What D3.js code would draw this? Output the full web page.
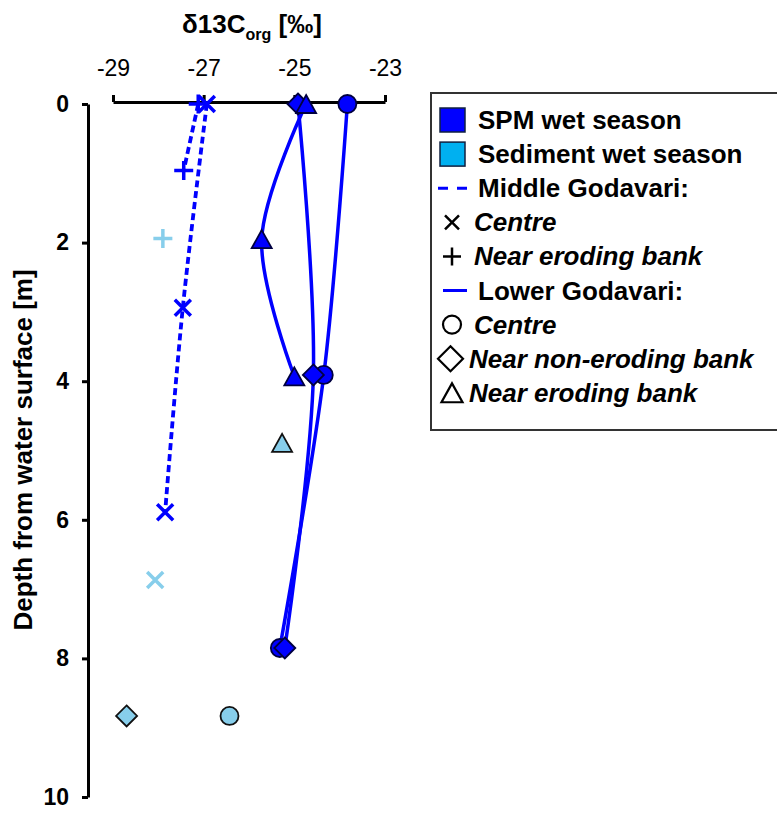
<!DOCTYPE html>
<html>
<head>
<meta charset="utf-8">
<script src="https://cdn.jsdelivr.net/npm/d3@7"></script>
<style>
  body { margin: 0; background: #fff; }
  text { font-family: "Liberation Sans", Arial, sans-serif; }
</style>
</head>
<body>
<div id="chart"></div>
<script>

let width = 777;
let height = 814;

// axis ticks
const xTicks = [-29, -27, -25, -23]
const yTicks = [0, 2, 4, 6, 8, 10]

// Middle Godavari, SPM wet season (dashed lines)
const midCentreDepth = [0, 2.94, 5.89]
const midCentreSpm = [-26.93, -27.46, -27.85]
const midBankDepth = [0, 0.96]
const midBankSpm = [-27.12, -27.44]

// Middle Godavari, sediment wet season
const midCentreSedDepth = [6.87]
const midCentreSed = [-28.07]
const midBankSedDepth = [1.94]
const midBankSed = [-27.90]

// Lower Godavari, SPM wet season (solid lines)
const lowDepth = [0, 3.91, 7.85]
const lowCentreSpm = [-23.83, -24.35, -25.32]
const lowNonErodingSpm = [-24.92, -24.58, -25.21]
const lowErodingDepth = [0, 1.95, 3.93]
const lowErodingSpm = [-24.74, -25.72, -25.00]

// Lower Godavari, sediment wet season
const lowCentreSedDepth = [8.83]
const lowCentreSed = [-26.43]
const lowNonErodingSedDepth = [8.83]
const lowNonErodingSed = [-28.70]
const lowErodingSedDepth = [4.89]
const lowErodingSed = [-25.27]

// legend rows
const legendLabels = ["SPM wet season", "Sediment wet season", "Middle Godavari:", "Centre",
  "Near eroding bank", "Lower Godavari:", "Centre", "Near non-eroding bank", "Near eroding bank"]
const legendKeys = ["spm", "sed", "dash", "times", "plus", "solid", "circle", "diamond", "triangle"]

const blue = "#0000ff"
const sedBlue = "#87ceeb"

function pts(depths, values) {
  return depths.map(function(d, i) { return {d: d, v: values[i]} })
}

// each series: shape, spm or sediment, line style
let series = [
  {shape: "plus", kind: "spm", line: "dash", points: pts(midBankDepth, midBankSpm)},
  {shape: "times", kind: "spm", line: "dash", points: pts(midCentreDepth, midCentreSpm)},
  {shape: "plus", kind: "sed", line: null, points: pts(midBankSedDepth, midBankSed)},
  {shape: "times", kind: "sed", line: null, points: pts(midCentreSedDepth, midCentreSed)},
  {shape: "circle", kind: "spm", line: "solid", points: pts(lowDepth, lowCentreSpm)},
  {shape: "diamond", kind: "spm", line: "solid", points: pts(lowDepth, lowNonErodingSpm)},
  {shape: "triangle", kind: "spm", line: "solid", points: pts(lowErodingDepth, lowErodingSpm)},
  {shape: "circle", kind: "sed", line: null, points: pts(lowCentreSedDepth, lowCentreSed)},
  {shape: "diamond", kind: "sed", line: null, points: pts(lowNonErodingSedDepth, lowNonErodingSed)},
  {shape: "triangle", kind: "sed", line: null, points: pts(lowErodingSedDepth, lowErodingSed)}
]

let x = d3.scaleLinear().domain([-29, -23]).range([113, 385])
let y = d3.scaleLinear().domain([0, 10]).range([104, 797])

let svg = d3.select("#chart").append("svg")
  .attr("width", width)
  .attr("height", height)
  .style("background", "#fff")

// marker outlines
function shapePath(shape, s) {
  if (shape == "diamond") return `M0,${-s}L${s},0L0,${s}L${-s},0Z`
  if (shape == "triangle") return `M0,${-s * 0.9}L${s},${s * 0.9}L${-s},${s * 0.9}Z`
  if (shape == "times") return `M${-s},${-s}L${s},${s}M${-s},${s}L${s},${-s}`
  if (shape == "plus") return `M${-s},0H${s}M0,${-s}V${s}`
  return d3.symbol(d3.symbolCircle, Math.PI * s * s)()
}
let markerSize = {circle: 9, diamond: 10.5, triangle: 10, times: 8, plus: 9.5}

// top axis
let xAxis = svg.append("g")
  .attr("transform", "translate(0,102)")
  .call(d3.axisTop(x).tickValues(xTicks).tickSize(7).tickSizeOuter(0).tickPadding(19).tickFormat(d3.format("d")))
xAxis.select(".domain").attr("stroke-width", 3)
xAxis.selectAll(".tick line").attr("stroke-width", 3)
xAxis.selectAll("text").style("font-size", "23px").attr("fill", "#000")
  .text(function(d) { return "-" + Math.abs(d) })

// left axis
let yAxis = svg.append("g")
  .attr("transform", "translate(88,0)")
  .call(d3.axisLeft(y).tickValues(yTicks).tickSize(6).tickSizeOuter(0).tickPadding(13))
yAxis.select(".domain").attr("stroke-width", 3)
yAxis.selectAll(".tick line").attr("stroke-width", 3)
yAxis.selectAll("text").style("font-size", "23px").style("font-weight", "bold").attr("fill", "#000")

// axis titles
let title = svg.append("text")
  .attr("x", 252).attr("y", 33)
  .attr("text-anchor", "middle")
  .style("font-size", "26px").style("font-weight", "bold")
title.append("tspan").text("δ13C")
title.append("tspan").attr("dy", 7).style("font-size", "16px").text("org")
title.append("tspan").attr("dy", -7).text(" [‰]")

svg.append("text")
  .attr("transform", "translate(32,450) rotate(-90)")
  .attr("text-anchor", "middle")
  .style("font-size", "26px").style("font-weight", "bold")
  .text("Depth from water surface [m]")

// lines
let line = d3.line()
  .x(function(d) { return x(d.v) })
  .y(function(d) { return y(d.d) })
  .curve(d3.curveCatmullRom)

svg.selectAll(".link")
  .data(series.filter(function(s) { return s.line }))
  .join("path")
  .attr("class", "link")
  .attr("d", function(s) { return line(s.points) })
  .attr("fill", "none")
  .attr("stroke", blue)
  .attr("stroke-width", function(s) { return s.line == "dash" ? 3.8 : 3.5 })
  .attr("stroke-dasharray", function(s) { return s.line == "dash" ? "7,4" : null })

// markers
let markers = []
series.forEach(function(s) {
  s.points.forEach(function(p) { markers.push({shape: s.shape, kind: s.kind, d: p.d, v: p.v}) })
})
let order = {times: 0, plus: 1, circle: 2, diamond: 3, triangle: 4}
markers.sort(function(a, b) { return order[a.shape] - order[b.shape] })

svg.selectAll(".node")
  .data(markers)
  .join("path")
  .attr("class", "node")
  .attr("transform", function(d) { return `translate(${x(d.v)},${y(d.d)})` })
  .attr("d", function(d) { return shapePath(d.shape, markerSize[d.shape]) })
  .attr("fill", function(d) {
    if (d.shape == "times" || d.shape == "plus") return "none"
    return d.kind == "spm" ? blue : sedBlue
  })
  .attr("stroke", function(d) {
    if (d.shape == "times" || d.shape == "plus") return d.kind == "spm" ? blue : sedBlue
    return d.kind == "spm" ? "#000040" : "#111"
  })
  .attr("stroke-width", function(d) { return (d.shape == "times" || d.shape == "plus") ? 3.5 : 1.8 })

// legend
let legend = svg.append("g")
legend.append("rect")
  .attr("x", 431).attr("y", 93)
  .attr("width", 400).attr("height", 337)
  .attr("fill", "#fff").attr("stroke", "#333").attr("stroke-width", 2)

legendLabels.forEach(function(label, i) {
  let cy = 120 + i * 34.1
  let key = legendKeys[i]
  let italic = i == 3 || i == 4 || i >= 6
  let g = legend.append("g")
  if (key == "spm" || key == "sed") {
    g.append("rect")
      .attr("x", 440).attr("y", cy - 12).attr("width", 25).attr("height", 24)
      .attr("fill", key == "spm" ? blue : "#00b0f0")
      .attr("stroke", "#102040").attr("stroke-width", 1.5)
  } else if (key == "dash" || key == "solid") {
    g.append("line")
      .attr("x1", key == "dash" ? 438 : 443).attr("x2", 467)
      .attr("y1", cy).attr("y2", cy)
      .attr("stroke", blue).attr("stroke-width", 3)
      .attr("stroke-dasharray", key == "dash" ? "10,9" : null)
  } else {
    let s = {times: 7, plus: 9, circle: 9, diamond: 12.5, triangle: 10.5}[key]
    g.append("path")
      .attr("transform", `translate(${key == "diamond" ? 450.5 : 452},${cy})`)
      .attr("d", shapePath(key, s))
      .attr("fill", "none").attr("stroke", "#000")
      .attr("stroke-width", (key == "times" || key == "plus") ? 2.5 : 2.2)
  }
  let tx = italic ? (key == "diamond" || key == "triangle" ? 469 : 474) : 478
  g.append("text")
    .attr("x", tx).attr("y", cy + 9)
    .style("font-size", "26px").style("font-weight", "bold")
    .style("font-style", italic ? "italic" : "normal")
    .text(label)
})

</script>
</body>
</html>
